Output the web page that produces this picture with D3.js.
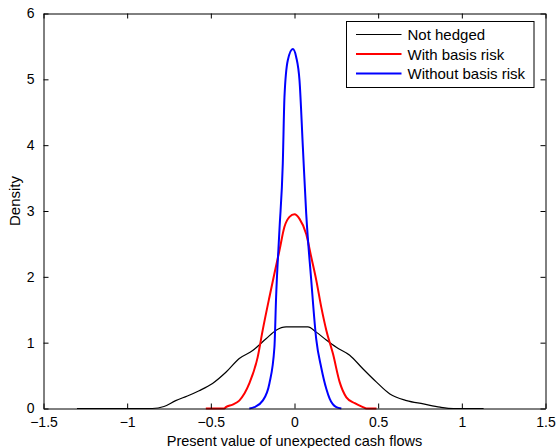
<!DOCTYPE html>
<html>
<head>
<meta charset="utf-8">
<script src="https://cdn.jsdelivr.net/npm/d3@7"></script>
<style>
  body { margin: 0; background: #fff; }
  svg { display: block; font-family: "Liberation Sans", Arial, sans-serif; }
</style>
</head>
<body>
<script>
// density curves
const notHedgedX = [-1.30, -0.85, -0.78, -0.71, -0.64, -0.57, -0.49, -0.41, -0.33, -0.25, -0.17, -0.11, -0.05, 0.03, 0.08, 0.13, 0.19, 0.25, 0.33, 0.41, 0.49, 0.57, 0.67, 0.77, 0.87, 0.95, 1.13]
const notHedgedY = [0, 0, 0.03, 0.12, 0.19, 0.27, 0.38, 0.55, 0.76, 0.88, 1.06, 1.19, 1.24, 1.24, 1.24, 1.16, 1.04, 0.93, 0.81, 0.60, 0.40, 0.22, 0.12, 0.07, 0.02, 0, 0]

const basisX = [-0.53, -0.42, -0.41, -0.37, -0.33, -0.27, -0.22, -0.19, -0.15, -0.12, -0.09, -0.06, -0.03, 0, 0.03, 0.07, 0.10, 0.13, 0.16, 0.19, 0.23, 0.27, 0.31, 0.36, 0.41, 0.43, 0.49]
const basisY = [0, 0, 0.02, 0.06, 0.12, 0.38, 0.78, 1.19, 1.69, 2.05, 2.40, 2.76, 2.91, 2.95, 2.88, 2.65, 2.30, 1.95, 1.54, 1.19, 0.83, 0.40, 0.17, 0.08, 0.02, 0, 0]

const noBasisX = [-0.27, -0.24, -0.19, -0.15, -0.12, -0.11, -0.09, -0.07, -0.06, -0.04, -0.01, 0.01, 0.03, 0.05, 0.07, 0.10, 0.13, 0.16, 0.19, 0.21, 0.25, 0.28]
const noBasisY = [0, 0.02, 0.12, 0.38, 0.93, 1.69, 2.71, 3.72, 4.73, 5.29, 5.46, 5.34, 4.98, 3.97, 2.96, 1.95, 1.05, 0.62, 0.30, 0.15, 0.02, 0]

const seriesNames = ["Not hedged", "With basis risk", "Without basis risk"]
const xTicks = [-1.5, -1, -0.5, 0, 0.5, 1, 1.5]
const yTicks = [0, 1, 2, 3, 4, 5, 6]

const width = 557,
    height = 448
const margin = { left: 43.5, right: 11.5, top: 13.5, bottom: 39.5 }

const svg = d3.select("body").append("svg")
    .attr("width", width)
    .attr("height", height)

const x = d3.scaleLinear().domain([-1.5, 1.5]).range([margin.left, width - margin.right])
const y = d3.scaleLinear().domain([0, 6]).range([height - margin.bottom, margin.top])

const fmt = (d) => String(d).replace("-", "\u2212")
const tickLen = 5

const series = [
    { name: seriesNames[0], xs: notHedgedX, ys: notHedgedY, color: "#000", w: 1.2 },
    { name: seriesNames[1], xs: basisX, ys: basisY, color: "#ff0000", w: 2 },
    { name: seriesNames[2], xs: noBasisX, ys: noBasisY, color: "#0000ff", w: 2 }
]

const line = d3.line()
    .x((d) => x(d[0]))
    .y((d) => y(d[1]))
    .curve(d3.curveMonotoneX)

series.forEach((s) => {
    svg.append("path")
        .attr("d", line(s.xs.map((v, i) => [v, s.ys[i]])))
        .attr("fill", "none")
        .attr("stroke", s.color)
        .attr("stroke-width", s.w)
})

// axes, ticks on all four sides pointing inward
const xBottom = d3.axisBottom(x).tickValues(xTicks).tickSizeInner(-tickLen).tickSizeOuter(0).tickPadding(9).tickFormat(fmt)
const xTop = d3.axisTop(x).tickValues(xTicks).tickSizeInner(-tickLen).tickSizeOuter(0).tickFormat("")
const yLeft = d3.axisLeft(y).tickValues(yTicks).tickSizeInner(-tickLen).tickSizeOuter(0).tickPadding(9).tickFormat(fmt)
const yRight = d3.axisRight(y).tickValues(yTicks).tickSizeInner(-tickLen).tickSizeOuter(0).tickFormat("")

const axes = [
    svg.append("g").attr("transform", `translate(0,${y(0)})`).call(xBottom),
    svg.append("g").attr("transform", `translate(0,${y(6)})`).call(xTop),
    svg.append("g").attr("transform", `translate(${x(-1.5)},0)`).call(yLeft),
    svg.append("g").attr("transform", `translate(${x(1.5)},0)`).call(yRight)
]
axes.forEach((g) => {
    g.select(".domain").attr("stroke", "#000").attr("stroke-width", 1)
    g.selectAll(".tick line").attr("stroke", "#000")
    g.selectAll("text").attr("font-size", 14).attr("font-family", "Liberation Sans, Arial, sans-serif").attr("fill", "#000")
})

svg.append("text")
    .attr("x", x(0))
    .attr("y", 446)
    .attr("text-anchor", "middle")
    .attr("font-size", 14.5)
    .text("Present value of unexpected cash flows")

svg.append("text")
    .attr("transform", `translate(20,${(y(0) + y(6)) / 2 - 10}) rotate(-90)`)
    .attr("text-anchor", "middle")
    .attr("font-size", 15)
    .text("Density")

// legend
const legend = svg.append("g").attr("transform", "translate(346.5,21.5)")
legend.append("rect")
    .attr("width", 187.5)
    .attr("height", 66)
    .attr("fill", "#fff")
    .attr("stroke", "#000")

const items = legend.selectAll("g.item")
    .data(series)
    .join("g")
    .attr("class", "item")
    .attr("transform", (d, i) => `translate(0,${13 + i * 19.5})`)

items.append("line")
    .attr("x1", 9.5)
    .attr("x2", 55)
    .attr("stroke", (d) => d.color)
    .attr("stroke-width", (d) => d.w)

items.append("text")
    .attr("x", 61)
    .attr("y", 5.5)
    .attr("font-size", 15)
    .text((d) => d.name)
</script>
</body>
</html>
